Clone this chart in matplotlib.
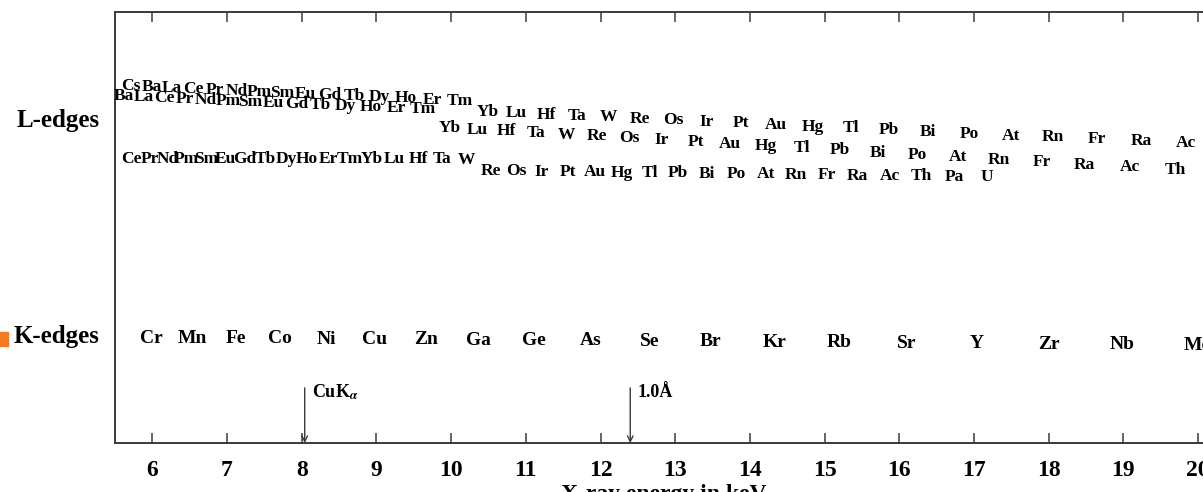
import numpy as np
import matplotlib.pyplot as plt
from matplotlib.patches import Rectangle

plt.rcParams['font.family'] = ['Liberation Serif', 'DejaVu Serif']
plt.rcParams['font.weight'] = 'bold'
plt.rcParams['mathtext.fontset'] = 'stix'

# K absorption edges (keV)
k_elements = ['Cr', 'Mn', 'Fe', 'Co', 'Ni', 'Cu', 'Zn', 'Ga', 'Ge', 'As',
              'Se', 'Br', 'Kr', 'Rb', 'Sr', 'Y', 'Zr', 'Nb', 'Mo']
k_edges = [5.989, 6.539, 7.112, 7.709, 8.333, 8.979, 9.659, 10.367, 11.103,
           11.867, 12.658, 13.474, 14.326, 15.200, 16.105, 17.038, 17.998,
           18.986, 20.000]

# L absorption edges (keV), Cs .. U
l_elements = ['Cs', 'Ba', 'La', 'Ce', 'Pr', 'Nd', 'Pm', 'Sm', 'Eu', 'Gd',
              'Tb', 'Dy', 'Ho', 'Er', 'Tm', 'Yb', 'Lu', 'Hf', 'Ta', 'W',
              'Re', 'Os', 'Ir', 'Pt', 'Au', 'Hg', 'Tl', 'Pb', 'Bi', 'Po',
              'At', 'Rn', 'Fr', 'Ra', 'Ac', 'Th', 'Pa', 'U']
l1_edges = [5.714, 5.989, 6.266, 6.549, 6.835, 7.126, 7.428, 7.737, 8.052,
            8.376, 8.708, 9.046, 9.394, 9.751, 10.116, 10.486, 10.870,
            11.271, 11.682, 12.100, 12.527, 12.968, 13.419, 13.880, 14.353,
            14.839, 15.347, 15.861, 16.388, 16.939, 17.493, 18.049, 18.639,
            19.237, 19.840, 20.472, 21.105, 21.757]
l2_edges = [5.359, 5.624, 5.891, 6.164, 6.440, 6.722, 7.013, 7.312, 7.617,
            7.930, 8.252, 8.581, 8.918, 9.264, 9.617, 9.978, 10.349, 10.739,
            11.136, 11.544, 11.959, 12.385, 12.824, 13.273, 13.734, 14.209,
            14.698, 15.200, 15.711, 16.244, 16.785, 17.337, 17.907, 18.484,
            19.083, 19.693, 20.314, 20.948]
l3_edges = [5.012, 5.247, 5.483, 5.723, 5.964, 6.208, 6.459, 6.716, 6.977,
            7.243, 7.514, 7.790, 8.071, 8.358, 8.648, 8.944, 9.244, 9.561,
            9.881, 10.207, 10.535, 10.871, 11.215, 11.564, 11.919, 12.284,
            12.658, 13.035, 13.419, 13.814, 14.214, 14.619, 15.031, 15.444,
            15.871, 16.300, 16.733, 17.166]

# reference lines
markers = ['CuK$_{\\alpha}$', '1.0Å']
marker_energy = [8.04, 12.398]

ticks = list(range(6, 21))
xmin, xmax = 5.5, 20.2

# label rows: (break energy, left start E, left y, left slope, right start E, right y, right slope)
rows = [
    (l1_edges, 10.3, 5.70, 0.828, -0.0077, 10.49, 0.768, -0.0078),
    (l2_edges, 9.8, 5.62, 0.805, -0.0075, 9.98, 0.731, -0.0100),
    (l3_edges, 10.37, 5.70, 0.660, -0.0005, 10.50, 0.631, -0.0021),
]

fig = plt.figure(figsize=(12.03, 4.92), dpi=100)
ax = fig.add_axes([115 / 1203, 49 / 492, 1098 / 1203, 431 / 492])
ax.set_xlim(xmin, xmax)
ax.set_ylim(0, 1)

line_col = '#3a3a3a'
for s in ax.spines.values():
    s.set_color(line_col)
    s.set_linewidth(1.4)
ax.set_xticks(ticks)
ax.set_xticklabels([str(t) for t in ticks])
ax.tick_params(axis='x', direction='in', length=7, width=1.1, color=line_col,
               top=True, pad=12, labelsize=17)
ax.set_yticks([])

for edges, brk, e0, y0, s0, e1, y1, s1 in rows:
    for name, e in zip(l_elements, edges):
        if e < xmin or e > 20.1:
            continue
        if e < brk:
            y = y0 + s0 * (e - e0)
        else:
            y = y1 + s1 * (e - e1)
        ax.text(e, y, name, ha='center', va='center', fontsize=12.5,
                fontweight='bold', clip_on=False)

for name, e in zip(k_elements, k_edges):
    ax.text(e, 0.2436 - 0.00116 * (e - 6), name, ha='center', va='center',
            fontsize=14, fontweight='bold', clip_on=False)

for label, e in zip(markers, marker_energy):
    ax.annotate('', xy=(e, 0.0), xytext=(e, 0.128),
                arrowprops=dict(arrowstyle='->', lw=1.0, color=line_col,
                                shrinkA=0, shrinkB=0, mutation_scale=10))
    ax.text(e + 0.1, 0.118, label, ha='left', va='center', fontsize=13,
            fontweight='bold')

fig.text(100 / 1203, 1 - 121 / 492, 'L-edges', ha='right', va='center',
         fontsize=18, fontweight='bold')
fig.text(100 / 1203, 1 - 337 / 492, 'K-edges', ha='right', va='center',
         fontsize=18, fontweight='bold')
fig.patches.append(Rectangle((0, 1 - 346 / 492), 8 / 1203, 14 / 492,
                             transform=fig.transFigure, color='#f47b20'))

fig.text(664 / 1203, 1 - 484 / 492, 'X-ray energy in keV', ha='center',
         va='top', fontsize=17, fontweight='bold')

fig.savefig('out.png', dpi=100)
